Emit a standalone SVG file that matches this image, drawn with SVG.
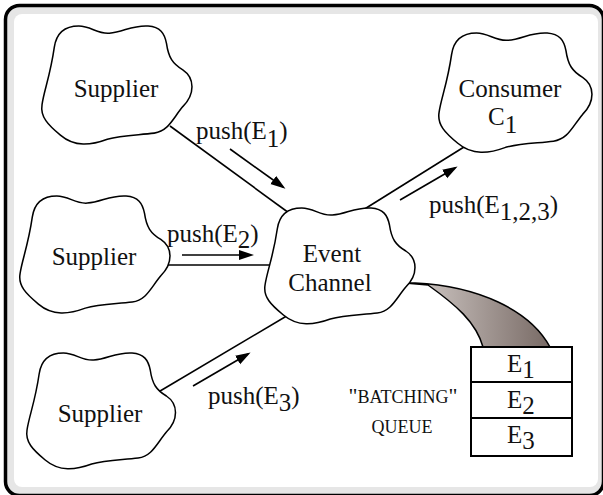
<svg xmlns="http://www.w3.org/2000/svg" width="603" height="495" viewBox="0 0 603 495">
<style>
.cloud{fill:#fff;stroke:#000;stroke-width:1.5;vector-effect:non-scaling-stroke}
.t{font-family:"Liberation Serif","Times New Roman",serif;font-size:25px;fill:#111}
.s{font-family:"Liberation Serif","Times New Roman",serif;font-size:18px;fill:#111}
.conn{stroke:#000;stroke-width:1.6;fill:none}
.arr{stroke:#000;stroke-width:1.6;fill:none;marker-end:url(#ah)}
.q{fill:#fff;stroke:#000;stroke-width:2}
</style>
<defs>
<marker id="ah" markerUnits="userSpaceOnUse" markerWidth="16" markerHeight="12" refX="12" refY="5" orient="auto">
<path d="M0,0 L15,5 L0,10 Z" fill="#000"/>
</marker>
<path id="cl" d="M14,22 C16,8 24,1 38,1 C50,1 56,9 68,8 C82,7 90,0 106,1 C118,2 122,8 124,18 C126,32 130,38 140,44 C152,52 152,68 140,80 C130,92 126,104 112,106 C96,108 80,108 66,112 C50,118 34,120 20,108 C8,98 0,90 2,78 C4,64 10,50 14,22 Z"/>
<linearGradient id="tg" x1="0" y1="0" x2="1" y2="0">
<stop offset="0" stop-color="#d6cfcc"/>
<stop offset="1" stop-color="#786a65"/>
</linearGradient>
</defs>
<g id="frame">
<rect x="5.5" y="5.5" width="598" height="490" rx="14" fill="#e6e6e6" stroke="#000" stroke-width="3.5"/>
<rect x="14" y="14" width="584" height="473" rx="8" fill="#fff"/>
</g>
<g id="connectors">
<line class="conn" x1="170" y1="126" x2="300" y2="221"/>
<line class="conn" x1="165" y1="265" x2="280" y2="265"/>
<line class="conn" x1="150" y1="397" x2="290" y2="314"/>
<line class="conn" x1="355" y1="215" x2="472" y2="142"/>
<line class="arr" x1="230" y1="149" x2="283" y2="187"/>
<line class="arr" x1="182" y1="255" x2="251" y2="255"/>
<line class="arr" x1="193" y1="386" x2="248" y2="354"/>
<line class="arr" x1="400" y1="200" x2="455" y2="168"/>
</g>
<g id="supplier1">
<use href="#cl" class="cloud" transform="translate(40,25) scale(1.02,1.02)"/>
<text class="t" x="116" y="97" text-anchor="middle">Supplier</text>
</g>
<g id="supplier2">
<use href="#cl" class="cloud" transform="translate(18,195) scale(1.02,1.01)"/>
<text class="t" x="94" y="265" text-anchor="middle">Supplier</text>
</g>
<g id="supplier3">
<use href="#cl" class="cloud" transform="translate(25,352) scale(1.01,1.0)"/>
<text class="t" x="100" y="422" text-anchor="middle">Supplier</text>
</g>
<g id="queue-link">
<path d="M405,283 L415,283 C478,286 530,310 550,347 L483,347 C476,322 456,305 428,285 Z" fill="url(#tg)" stroke="#000" stroke-width="1.5"/>
</g>
<g id="event-channel">
<use href="#cl" class="cloud" transform="translate(263,207) scale(1.02,1.0)"/>
<text class="t" x="332" y="262" text-anchor="middle">Event</text>
<text class="t" x="330" y="291" text-anchor="middle">Channel</text>
</g>
<g id="consumer">
<use href="#cl" class="cloud" transform="translate(437,32) scale(1.04,1.03)"/>
<text class="t" x="510" y="97" text-anchor="middle">Consumer</text>
<text class="t" x="488" y="125">C<tspan dy="8">1</tspan></text>
</g>
<g id="labels">
<text class="t" x="196" y="139">push(E<tspan dy="8">1</tspan><tspan dy="-8">)</tspan></text>
<text class="t" x="167" y="242">push(E<tspan dy="6">2</tspan><tspan dy="-6">)</tspan></text>
<text class="t" x="208" y="404">push(E<tspan dy="7">3</tspan><tspan dy="-7">)</tspan></text>
<text class="t" x="429" y="213">push(E<tspan dy="7">1,2,3</tspan><tspan dy="-7">)</tspan></text>
</g>
<g id="batching-queue">
<rect class="q" x="471" y="347" width="101" height="35"/>
<rect class="q" x="471" y="382" width="101" height="36"/>
<rect class="q" x="471" y="418" width="101" height="38"/>
<text class="t" x="507" y="372">E<tspan dy="6">1</tspan></text>
<text class="t" x="507" y="408">E<tspan dy="6">2</tspan></text>
<text class="t" x="507" y="443">E<tspan dy="6">3</tspan></text>
<text class="s" x="403" y="403" text-anchor="middle"><tspan font-size="22">"</tspan>BATCHING<tspan font-size="22">"</tspan></text>
<text class="s" x="402" y="433" text-anchor="middle">QUEUE</text>
</g>
</svg>
